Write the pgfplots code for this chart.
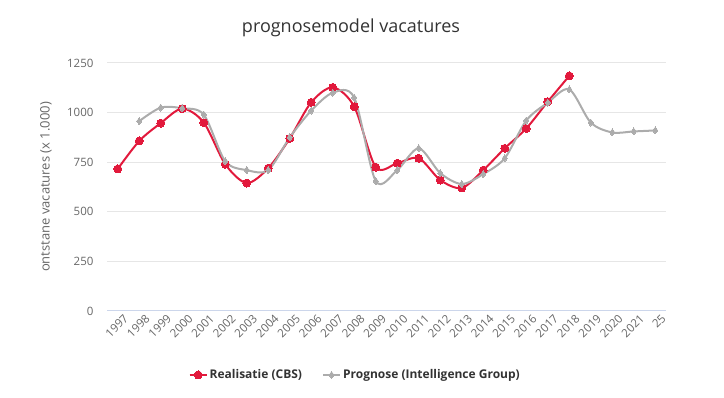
\documentclass[border=0pt]{standalone}
\usepackage{pgfplots}
\pgfplotsset{compat=1.18}
\usepackage{fontspec}
\setmainfont{Open Sans}
\definecolor{cbsred}{RGB}{226,25,60}
\definecolor{ig}{RGB}{172,172,172}
\definecolor{ticktxt}{RGB}{102,102,102}
\definecolor{gridc}{RGB}{230,230,230}
\definecolor{xaxisc}{RGB}{204,214,235}
\definecolor{titlec}{RGB}{51,51,51}
\begin{document}
\begin{tikzpicture}[x=1pt,y=1pt]
\useasboundingbox (0,0) rectangle (724,398);
\node[font=\fontsize{18}{22}\selectfont, text=titlec] at (351,370) {prognosemodel vacatures};
\node[font=\fontsize{13}{15}\selectfont, text=ticktxt, rotate=90] at (46,211) {ontstane vacatures (x 1.000)};
\begin{axis}[
  at={(107pt,87pt)}, anchor=south west, scale only axis,
  width=559pt, height=248pt,
  xmin=-0.5, xmax=25.5, ymin=0, ymax=1250,
  ytick={0,250,500,750,1000,1250},
  xtick={0,...,25},
  xticklabels={1997,1998,1999,2000,2001,2002,2003,2004,2005,2006,2007,2008,2009,2010,2011,2012,2013,2014,2015,2016,2017,2018,2019,2020,2021,25},
  axis x line*=bottom, axis y line*=left,
  y axis line style={draw=none},
  x axis line style={draw=xaxisc, line width=1pt, -},
  major tick length=0pt,
  ymajorgrids, grid style={draw=gridc, line width=1pt},
  tick label style={font=\fontsize{11.5}{13}\selectfont, text=ticktxt},
  /pgf/number format/assume math mode=true,
  /pgf/number format/1000 sep={},
  yticklabel style={xshift=-10pt},
  xticklabel style={rotate=45, anchor=east, xshift=3pt, yshift=-10pt, inner sep=1pt},
  legend style={at={(axis description cs:0.444,-0.258)}, anchor=center, draw=none,
    font=\fontsize{12}{14}\selectfont\bfseries, text=titlec, legend columns=2,
    /tikz/every even column/.append style={column sep=18pt}},
  legend cell align=left,
]
\addplot[color=cbsred, line width=2pt, smooth, tension=0.5, mark=*, mark size=4pt, mark options={fill=cbsred, draw=cbsred, line width=0pt}]
coordinates {(0,716)(1,857)(2,947)(3,1020)(4,950)(5,740)(6,645)(7,720)(8,870)(9,1052)(10,1127)(11,1030)(12,725)(13,745)(14,770)(15,660)(16,620)(17,710)(18,820)(19,920)(20,1055)(21,1185)};
\addlegendentry{Realisatie (CBS)}
\addplot[color=ig, line width=2pt, smooth, tension=0.5, mark=diamond*, mark size=3.5pt, mark options={fill=ig, draw=ig, line width=0pt}]
coordinates {(1,957)(2,1025)(3,1022)(4,990)(5,755)(6,710)(7,710)(8,875)(9,1010)(10,1100)(11,1075)(12,655)(13,710)(14,820)(15,695)(16,640)(17,690)(18,770)(19,960)(20,1050)(21,1117)(22,950)(23,900)(24,905)(25,910)};
\addlegendentry{Prognose (Intelligence Group)}
\end{axis}
\end{tikzpicture}
\end{document}
